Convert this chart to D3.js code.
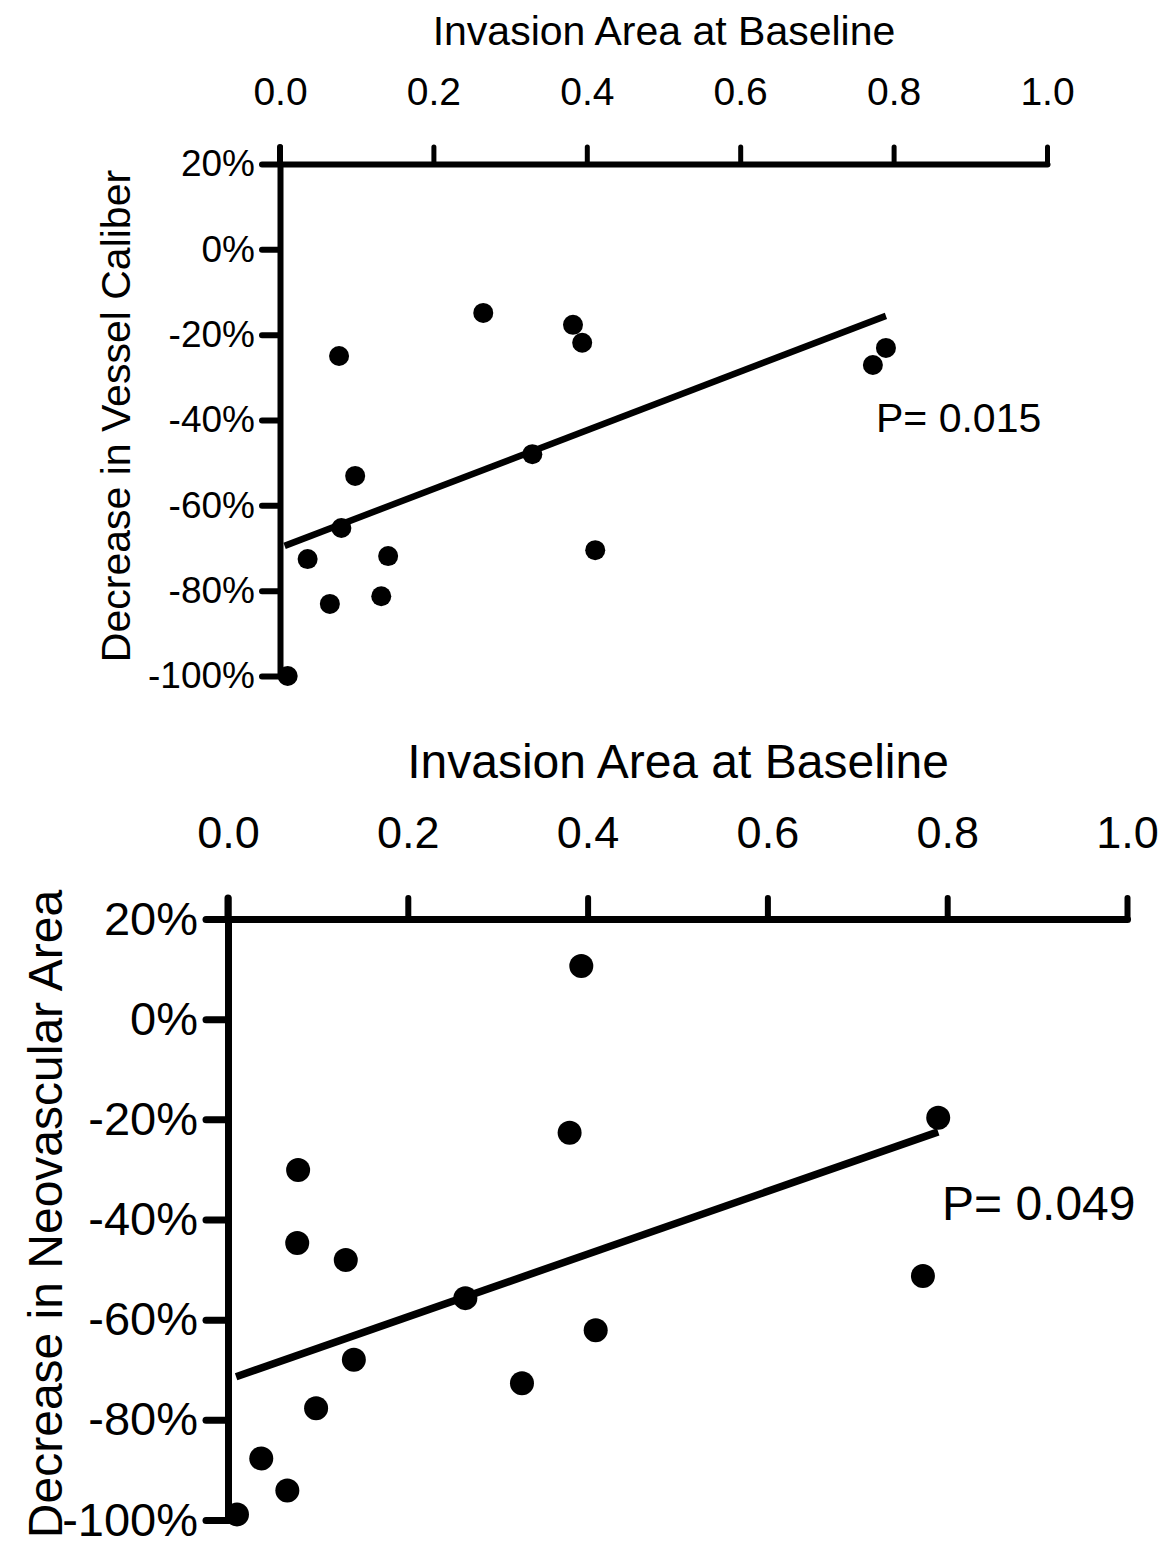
<!DOCTYPE html>
<html>
<head>
<meta charset="utf-8">
<script src="https://cdn.jsdelivr.net/npm/d3@7"></script>
<style>
  body { margin: 0; background: #fff; }
  svg { display: block; font-family: "Liberation Sans", Arial, sans-serif; }
</style>
</head>
<body>
<svg id="chart" width="1173" height="1549"></svg>
<script>
// ticks shared by both panels
const xTicks = [0, 0.2, 0.4, 0.6, 0.8, 1.0];
const yTicks = [20, 0, -20, -40, -60, -80, -100];

// top panel: decrease in vessel caliber (%)
const vesselX = [0.010, 0.036, 0.065, 0.077, 0.080, 0.098, 0.132, 0.141, 0.265, 0.329, 0.382, 0.394, 0.411, 0.773, 0.790];
const vesselY = [-100, -72.6, -83.1, -25.0, -65.3, -53.1, -81.3, -71.9, -14.9, -48.0, -17.7, -21.9, -70.5, -27.1, -23.1];
const vesselFitX = [0.006, 0.790];
const vesselFitY = [-69.5, -15.6];

// bottom panel: decrease in neovascular area (%)
const neoX = [0.010, 0.037, 0.066, 0.078, 0.077, 0.098, 0.131, 0.140, 0.264, 0.327, 0.380, 0.393, 0.409, 0.773, 0.790];
const neoY = [-98.9, -87.7, -94.1, -30.1, -44.7, -77.7, -48.1, -68.0, -55.7, -72.7, -22.7, 10.6, -62.1, -51.3, -19.7];
const neoFitX = [0.009, 0.790];
const neoFitY = [-71.4, -22.5];

const svg = d3.select("#chart");

function drawPanel(p) {
    const x = d3.scaleLinear().domain([0, 1]).range([p.left, p.right]);
    const y = d3.scaleLinear().domain([-100, 20]).range([p.bottom, p.top]);
    const points = p.xs.map((v, i) => ({ x: v, y: p.ys[i] }));
    const fit = p.fitX.map((v, i) => ({ x: v, y: p.fitY[i] }));

    // x axis on top
    svg.append("g")
        .attr("transform", `translate(0, ${p.top})`)
        .call(d3.axisTop(x).tickValues(xTicks).tickFormat(d3.format(".1f"))
            .tickSize(p.tickLen).tickSizeOuter(0).tickPadding(p.xPad))
        .call(g => g.select(".domain").attr("stroke-width", p.axisW).attr("stroke-linecap", "round"))
        .call(g => g.selectAll(".tick line").attr("stroke-width", p.tickW).attr("stroke-linecap", "round"))
        .call(g => g.selectAll(".tick text").attr("font-size", p.tickFont).attr("fill", "#000"));

    // y axis
    svg.append("g")
        .attr("transform", `translate(${p.left}, 0)`)
        .call(d3.axisLeft(y).tickValues(yTicks).tickFormat(d => d + "%")
            .tickSize(p.tickLen + 1).tickSizeOuter(0).tickPadding(p.yPad))
        .call(g => g.select(".domain").attr("stroke-width", p.axisW).attr("stroke-linecap", "round"))
        .call(g => g.selectAll(".tick line").attr("stroke-width", p.axisW).attr("stroke-linecap", "round"))
        .call(g => g.selectAll(".tick text").attr("font-size", p.yFont).attr("fill", "#000"));

    // extend y axis above the x axis (like the 0.0 tick)
    svg.append("line")
        .attr("x1", x(0)).attr("x2", x(0))
        .attr("y1", y(20)).attr("y2", y(20) - p.tickLen)
        .attr("stroke", "#000").attr("stroke-width", p.axisW).attr("stroke-linecap", "round");

    // regression line
    svg.append("path")
        .datum(fit)
        .attr("fill", "none")
        .attr("stroke", "#000")
        .attr("stroke-width", p.fitW)
        .attr("d", d3.line().x(d => x(d.x)).y(d => y(d.y)));

    svg.append("g").selectAll("circle")
        .data(points)
        .join("circle")
        .attr("cx", d => x(d.x))
        .attr("cy", d => y(d.y))
        .attr("r", p.r)
        .attr("fill", "#000");

    // axis titles
    svg.append("text")
        .attr("x", p.titleX)
        .attr("y", p.titleY)
        .attr("text-anchor", "middle")
        .attr("font-size", p.titleFont)
        .text("Invasion Area at Baseline");

    svg.append("text")
        .attr("transform", `translate(${p.yLabelX}, ${p.yLabelY}) rotate(-90)`)
        .attr("text-anchor", "middle")
        .attr("font-size", p.yLabelFont)
        .text(p.yLabel);

    svg.append("text")
        .attr("x", p.pX)
        .attr("y", p.pY)
        .attr("font-size", p.pFont)
        .text(p.pText);
}

drawPanel({
    xs: vesselX, ys: vesselY, fitX: vesselFitX, fitY: vesselFitY,
    left: 280, right: 1047, top: 164, bottom: 676,
    tickLen: 17, xPad: 42, yPad: 7, axisW: 6, tickW: 5, fitW: 6.5, r: 10,
    tickFont: 39, yFont: 37,
    titleX: 664, titleY: 45, titleFont: 41,
    yLabel: "Decrease in Vessel Caliber", yLabelX: 130, yLabelY: 416, yLabelFont: 41,
    pText: "P= 0.015", pX: 876, pY: 432, pFont: 41
});

drawPanel({
    xs: neoX, ys: neoY, fitX: neoFitX, fitY: neoFitY,
    left: 228, right: 1127, top: 919, bottom: 1520,
    tickLen: 21, xPad: 50, yPad: 8, axisW: 7, tickW: 6, fitW: 7.5, r: 12,
    tickFont: 45, yFont: 47,
    titleX: 678, titleY: 778, titleFont: 48,
    yLabel: "Decrease in Neovascular Area", yLabelX: 62, yLabelY: 1214, yLabelFont: 48,
    pText: "P= 0.049", pX: 942, pY: 1220, pFont: 48
});
</script>
</body>
</html>
